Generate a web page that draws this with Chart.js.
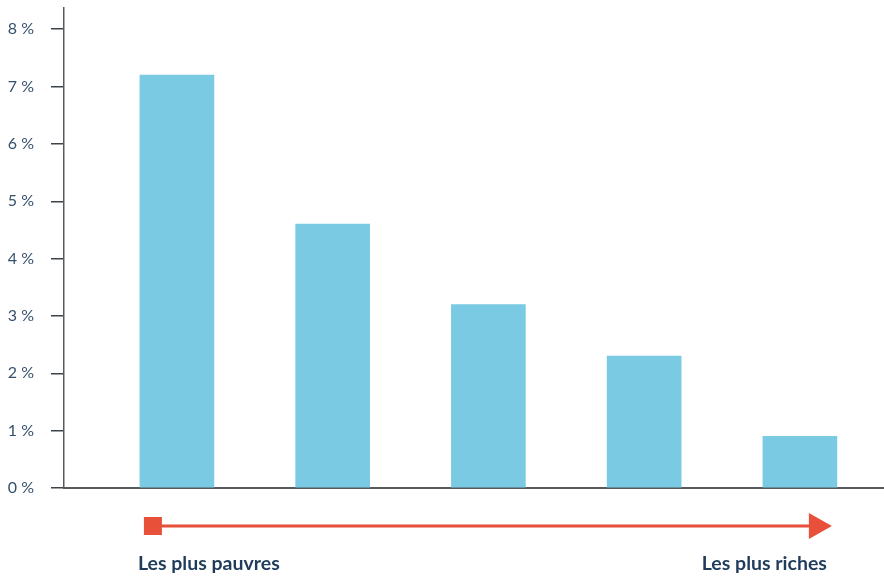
<!DOCTYPE html>
<html>
<head>
<meta charset="utf-8">
<script src="https://cdn.jsdelivr.net/npm/chart.js@4"></script>
<style>
  html, body { margin: 0; padding: 0; background: #ffffff; }
  #wrap { width: 884px; height: 578px; position: relative; }
</style>
</head>
<body>
<div id="wrap"><canvas id="c"></canvas></div>
<script>
// Data
const quintiles = [1, 2, 3, 4, 5];
const shares = [7.2, 4.6, 3.2, 2.3, 0.9];
const yTicks = [0, 1, 2, 3, 4, 5, 6, 7, 8];
const leftLabel = 'Les plus pauvres';
const rightLabel = 'Les plus riches';

const barColor = '#7acae4';
const axisColor = '#555a5f';
const tickTextColor = '#35506d';
const arrowColor = '#e8503a';
const labelColor = '#1f3c5b';

const arrowPlugin = {
  id: 'arrowPlugin',
  afterDraw(chart) {
    const ctx = chart.ctx;
    const xs = chart.scales.x;
    const first = xs.getPixelForValue(quintiles[0]);
    const last = xs.getPixelForValue(quintiles[quintiles.length - 1]);
    const y = 526;
    ctx.save();
    ctx.fillStyle = arrowColor;
    ctx.fillRect(first - 33, y - 9, 18, 18);
    ctx.strokeStyle = arrowColor;
    ctx.lineWidth = 3;
    ctx.beginPath();
    ctx.moveTo(first - 16, y);
    ctx.lineTo(last + 12, y);
    ctx.stroke();
    ctx.beginPath();
    ctx.moveTo(last + 9, y - 13);
    ctx.lineTo(last + 32, y);
    ctx.lineTo(last + 9, y + 13);
    ctx.closePath();
    ctx.fill();
    ctx.fillStyle = labelColor;
    ctx.font = 'bold 19.5px Lato';
    ctx.textBaseline = 'middle';
    ctx.textAlign = 'left';
    ctx.fillText(leftLabel, first - 39, 564);
    ctx.textAlign = 'right';
    ctx.fillText(rightLabel, last + 27, 564);
    ctx.restore();
  }
};

new Chart(document.getElementById('c'), {
  type: 'bar',
  data: {
    datasets: [{
      data: quintiles.map((q, i) => ({ x: q, y: shares[i] })),
      backgroundColor: barColor,
      borderWidth: 0,
      barThickness: 74
    }]
  },
  options: {
    responsive: true,
    maintainAspectRatio: false,
    animation: false,
    layout: { padding: { top: 8, bottom: 90, left: 0, right: 0 } },
    plugins: { legend: { display: false }, tooltip: { enabled: false } },
    scales: {
      x: {
        type: 'linear',
        offset: false,
        min: 0.275,
        max: 5.54,
        ticks: { display: false },
        grid: { display: false, offset: false },
        border: { display: true, color: axisColor, width: 2 },
        afterFit(s) { s.height = 0; s.paddingLeft = 0; s.paddingRight = 0; }
      },
      y: {
        min: 0,
        max: 8.37,
        afterBuildTicks(s) { s.ticks = yTicks.map(v => ({ value: v })); },
        ticks: {
          padding: 17,
          color: tickTextColor,
          font: { family: 'Lato', size: 16 },
          callback: v => v + ' %'
        },
        grid: { drawOnChartArea: false, drawTicks: true, tickLength: 13, color: '#3f4449', lineWidth: 1.5 },
        border: { display: true, color: axisColor, width: 1.5 },
        afterFit(s) { s.width = 64; s.paddingTop = 0; s.paddingBottom = 0; }
      }
    }
  },
  plugins: [arrowPlugin]
});
</script>
</body>
</html>
